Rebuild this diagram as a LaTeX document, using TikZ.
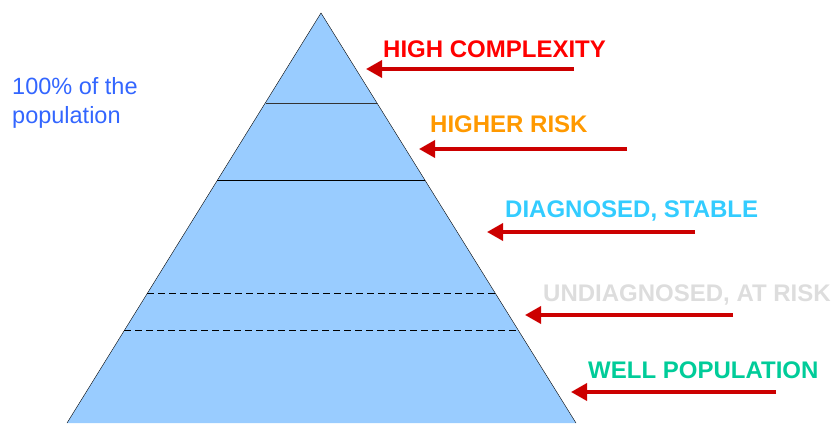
\documentclass[tikz,border=0pt]{standalone}
\usepackage{fontspec}
\setmainfont{Liberation Sans}
\usetikzlibrary{arrows.meta}
\definecolor{pyrfill}{HTML}{99CCFF}
\definecolor{arrowred}{HTML}{CC0000}
\definecolor{cplx}{HTML}{FF0000}
\definecolor{risk}{HTML}{FF9900}
\definecolor{stable}{HTML}{33CCFF}
\definecolor{atrisk}{HTML}{DDDDDD}
\definecolor{well}{HTML}{00CC99}
\definecolor{popblue}{HTML}{3366FF}
\tikzset{
  level/.style={anchor=base west, inner sep=0pt, font=\bfseries\fontsize{24}{28}\selectfont},
  pointer/.style={draw=arrowred, line width=3.5pt, -{Triangle[length=16pt,width=17pt]}},
}
\begin{document}
\begin{tikzpicture}[x=1pt,y=-1pt]
\useasboundingbox (0,0) rectangle (835,423);

% pyramid
\coordinate (top) at (321,13);
\coordinate (bl) at (67,423);
\coordinate (br) at (576,423);
\path[fill=pyrfill] (top) -- (bl) -- (br) -- cycle;
\path[draw,thin] (bl) -- (top) -- (br);

% bands
\path[draw,thin,black!80] (266,103) -- (377,103);
\path[draw,thin] (217,180) -- (425,180);
\path[draw,thin,dash pattern=on 7pt off 4pt] (147,293) -- (496,293);
\path[draw,thin,dash pattern=on 7pt off 4pt] (124,330) -- (518,330);

% labels
\node[level, text=cplx] (c) at (383,57) {HIGH COMPLEXITY};
\node[level, text=risk] (r) at (430,132) {HIGHER RISK};
\node[level, text=stable] (s) at (505,217) {DIAGNOSED, STABLE};
\node[level, text=atrisk] (u) at (543,301) {UNDIAGNOSED, AT RISK};
\node[level, text=well] (w) at (588,378) {WELL POPULATION};

\node[anchor=base west, inner sep=0pt, align=left, text=popblue,
  font=\fontsize{23.5}{29}\selectfont] (pop) at (12,123) {100\% of the\\population};

% arrows
\coordinate (c0) at (574,69);  \coordinate (c1) at (366,69);
\coordinate (r0) at (627,149); \coordinate (r1) at (419,149);
\coordinate (s0) at (695,232); \coordinate (s1) at (487,232);
\coordinate (u0) at (733,315); \coordinate (u1) at (525,315);
\coordinate (w0) at (776,392); \coordinate (w1) at (571,392);

\path[pointer] (c0) -- (c1);
\path[pointer] (r0) -- (r1);
\path[pointer] (s0) -- (s1);
\path[pointer] (u0) -- (u1);
\path[pointer] (w0) -- (w1);
\end{tikzpicture}
\end{document}
